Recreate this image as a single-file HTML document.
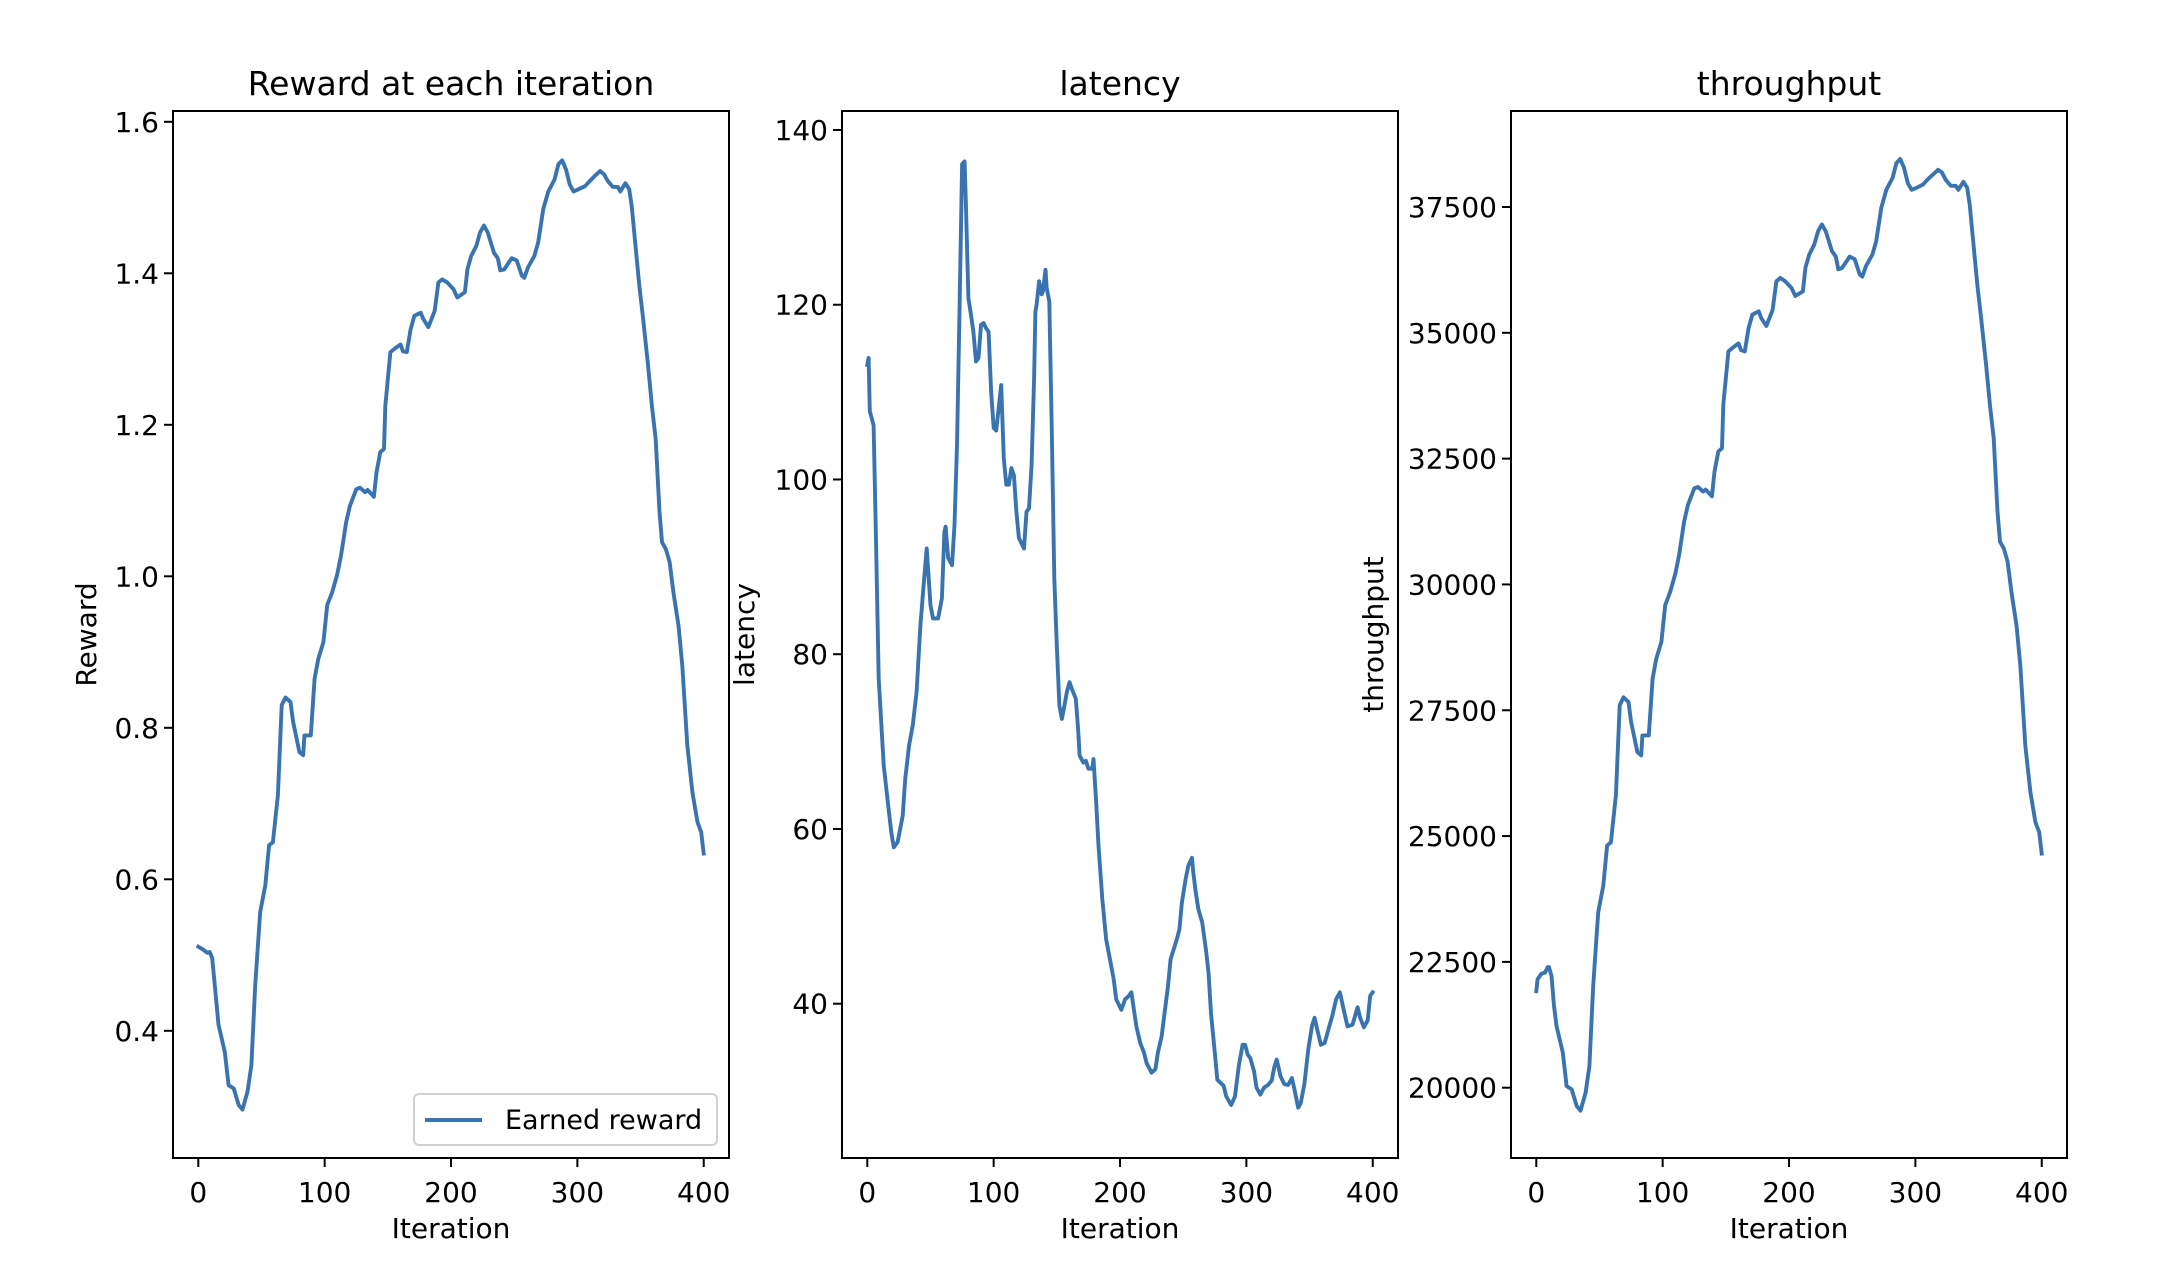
<!DOCTYPE html>
<html><head><meta charset="utf-8"><style>
html,body{margin:0;padding:0;background:#fff;}
svg{display:block;font-family:"DejaVu Sans","Liberation Sans",sans-serif;}
</style></head><body>
<svg id="fig" width="2184" height="1278" viewBox="0 0 2184 1278" xmlns="http://www.w3.org/2000/svg">
<rect width="2184" height="1278" fill="#fff"/>
</svg>
<script>
// ---- data ----
const rewardIters=[0,4,7,9,11,14,16,21,24,28,32,35,39,42,45,49,53,56,59,63,66,69,73,75,80,83,84,89,92,95,99,102,106,110,113,117,120,125,128,132,134,139,141,144,147,148,152,155,160,162,165,168,171,176,178,182,187,190,193,197,202,205,211,213,216,220,223,226,229,234,237,239,242,248,252,256,258,261,266,269,273,277,282,285,288,291,294,297,301,306,310,314,318,321,324,328,332,334,338,341,343,346,349,352,356,359,362,365,367,370,373,376,380,383,387,391,395,398,400];
const rewardVals=[0.511,0.507,0.503,0.504,0.496,0.443,0.408,0.372,0.328,0.324,0.302,0.296,0.320,0.355,0.460,0.557,0.592,0.645,0.649,0.711,0.830,0.840,0.834,0.808,0.768,0.764,0.790,0.790,0.865,0.891,0.913,0.962,0.979,1.003,1.028,1.071,1.093,1.115,1.117,1.111,1.114,1.105,1.137,1.164,1.168,1.225,1.296,1.300,1.306,1.297,1.296,1.326,1.344,1.348,1.340,1.329,1.350,1.388,1.392,1.388,1.379,1.368,1.375,1.405,1.423,1.436,1.454,1.463,1.454,1.427,1.420,1.404,1.405,1.420,1.417,1.397,1.394,1.408,1.423,1.441,1.485,1.508,1.524,1.544,1.549,1.537,1.517,1.508,1.511,1.515,1.522,1.529,1.535,1.531,1.522,1.514,1.514,1.508,1.519,1.511,1.489,1.436,1.384,1.340,1.278,1.225,1.181,1.085,1.045,1.036,1.019,0.979,0.935,0.882,0.777,0.715,0.676,0.662,0.634];
const tpIters=[0,1,4,7,9,10,12,14,16,21,24,28,32,35,39,42,45,49,53,56,59,63,66,69,73,75,80,83,84,89,92,95,99,102,106,110,113,117,120,125,128,132,134,139,141,144,147,148,152,155,160,162,165,168,171,176,178,182,187,190,193,197,202,205,211,213,216,220,223,226,229,234,237,239,242,248,252,256,258,261,266,269,273,277,282,285,288,291,294,297,301,306,310,314,318,321,324,328,332,334,338,341,343,346,349,352,356,359,362,365,367,370,373,376,380,383,387,391,395,398,400];
const tpVals=[21918,22157,22263,22290,22396,22396,22223,21626,21228,20697,20034,19967,19636,19543,19901,20432,22024,23484,24015,24811,24877,25806,27598,27757,27664,27266,26669,26602,27001,27001,28129,28527,28858,29588,29854,30212,30583,31247,31579,31911,31937,31844,31884,31751,32242,32640,32707,33570,34631,34697,34790,34657,34631,35095,35361,35427,35294,35135,35454,36024,36091,36024,35892,35732,35825,36290,36555,36754,37019,37152,37019,36621,36515,36263,36290,36515,36462,36157,36117,36329,36555,36820,37484,37842,38081,38373,38453,38280,37975,37842,37882,37948,38054,38147,38240,38187,38041,37922,37922,37842,38001,37882,37550,36754,35958,35294,34365,33569,32906,31446,30849,30716,30451,29854,29190,28394,26802,25873,25276,25077,24652];
const latIters=[0,1,2,5,7,9,13,16,19,21,24,28,30,33,36,39,42,45,47,50,52,56,59,61,62,64,67,69,71,73,75,77,78,80,82,84,86,88,90,92,94,96,98,100,102,104,106,108,110,112,114,116,118,120,124,126,128,130,132,133,134,136,138,139,141,142,144,146,148,150,152,154,156,158,160,162,165,167,168,171,173,175,178,179,181,183,186,189,192,195,197,201,204,207,209,211,213,216,219,221,225,228,230,233,235,238,240,242,245,247,249,252,254,257,258,260,262,265,268,270,272,275,277,282,284,288,291,294,297,299,301,303,306,308,311,314,317,320,322,324,327,330,333,336,338,341,343,346,349,352,354,356,359,362,365,368,371,374,377,380,384,388,390,393,396,398,400];
const latVals=[113.1,113.9,107.8,106.2,92.5,77.2,67.3,63.4,59.6,57.9,58.5,61.5,65.7,69.5,71.9,75.7,83.3,88.7,92.1,85.6,84.1,84.1,86.4,94.0,94.6,91.0,90.2,94.8,103.9,119.2,136.1,136.4,131.5,120.8,118.9,116.9,113.5,113.9,117.7,117.9,117.3,116.9,110.1,105.9,105.6,108.2,110.8,102.4,99.4,99.4,101.3,100.5,96.3,93.3,92.1,96.3,96.7,101.7,111.6,119.2,120.0,122.7,121.2,121.5,124.0,121.9,120.4,105.5,88.7,81.0,74.1,72.6,74.1,75.7,76.8,76.0,74.9,71.1,68.4,67.6,67.8,66.9,66.9,68.0,63.4,58.1,52.0,47.4,45.1,42.8,40.5,39.3,40.5,40.9,41.3,39.3,37.4,35.5,34.4,33.2,32.1,32.5,34.4,36.3,38.6,42.0,45.1,46.0,47.4,48.5,51.6,54.3,55.8,56.7,55.0,52.7,50.8,49.3,46.2,43.6,38.9,34.4,31.3,30.6,29.4,28.4,29.4,32.9,35.3,35.3,34.2,33.8,32.3,30.4,29.6,30.4,30.7,31.2,32.7,33.6,31.7,30.8,30.7,31.5,30.2,28.1,28.6,30.9,34.8,37.5,38.4,37.1,35.3,35.5,37.1,38.6,40.5,41.3,39.3,37.4,37.6,39.6,38.4,37.3,38.1,40.9,41.3];
const xTicks=[0,100,200,300,400];
const rewardTicks=[0.4,0.6,0.8,1.0,1.2,1.4,1.6];
const rewardTickLabels=["0.4","0.6","0.8","1.0","1.2","1.4","1.6"];
const latTicks=[40,60,80,100,120,140];
const tpTicks=[20000,22500,25000,27500,30000,32500,35000,37500];

const NS="http://www.w3.org/2000/svg";
const svg=document.getElementById('fig');
function mk(tag,attrs,parent){const e=document.createElementNS(NS,tag);for(const k in attrs)e.setAttribute(k,attrs[k]);(parent||svg).appendChild(e);return e;}
const TOP=111,BOT=1158,W=556;
const COLOR="#3a74b0";

function panel(opts){
  const L=opts.left;
  const g=mk('g',{});
  
  
  const xS=i=>L+25.3+1.2636*i;
  const yS=v=>opts.y0px+(v-opts.y0)*(opts.y1px-opts.y0px)/(opts.y1-opts.y0);
  let d='';
  opts.xs.forEach((it,k)=>{d+=(k?'L':'M')+xS(it).toFixed(1)+','+yS(opts.vals[k]).toFixed(1);});
  const p=mk('path',{d:d,fill:'none',stroke:COLOR,'stroke-width':3.9,'stroke-linejoin':'round','stroke-linecap':'square'},g);
  
  
  const f=mk('rect',{x:L,y:TOP,width:W,height:BOT-TOP,fill:'none',stroke:'#000','stroke-width':2},g);
  
  
  xTicks.forEach(t=>{
    const x=xS(t);
    mk('line',{x1:x,y1:BOT,x2:x,y2:BOT+9,stroke:'#000','stroke-width':2},g);
    const tx=mk('text',{x:x,y:1202,'text-anchor':'middle','font-size':28,fill:'#000'},g);
    tx.textContent=String(t);
    
    
  });
  opts.ticks.forEach((t,k)=>{
    const y=yS(t);
    mk('line',{x1:L-9,y1:y,x2:L,y2:y,stroke:'#000','stroke-width':2},g);
    const tx=mk('text',{x:L-14,y:y+10,'text-anchor':'end','font-size':28,fill:'#000'},g);
    tx.textContent=opts.labels?opts.labels[k]:String(t);
    
    
  });
  const title=mk('text',{x:L+W/2,y:95,'text-anchor':'middle','font-size':33,fill:'#000'},g);
  title.textContent=opts.title;
  
  
  const xl=mk('text',{x:L+W/2,y:1238,'text-anchor':'middle','font-size':28,fill:'#000'},g);
  xl.textContent='Iteration';
  
  
  const cy=(TOP+BOT)/2;
  const yl=mk('text',{x:opts.ylx,y:cy,'text-anchor':'middle','font-size':28,fill:'#000',transform:'rotate(-90 '+opts.ylx+' '+cy+')'},g);
  yl.textContent=opts.ylabel;
  
  
  return g;
}

panel({name:'reward',left:173,xs:rewardIters,vals:rewardVals,ticks:rewardTicks,labels:rewardTickLabels,
  y0:1.6,y0px:121.8,y1:0.4,y1px:1030.8,title:'Reward at each iteration',ylabel:'Reward',ylx:96});
panel({name:'latency',left:842,xs:latIters,vals:latVals,ticks:latTicks,
  y0:140,y0px:130,y1:40,y1px:1003.7,title:'latency',ylabel:'latency',ylx:754});
panel({name:'throughput',left:1511,xs:tpIters,vals:tpVals,ticks:tpTicks,
  y0:37500,y0px:207,y1:20000,y1px:1087.7,title:'throughput',ylabel:'throughput',ylx:1383});

const lg=mk('g',{});


mk('rect',{x:414,y:1094,width:303,height:51,rx:5,fill:'#fff','fill-opacity':0.8,stroke:'#d0d0d0','stroke-width':2},lg);
const ll=mk('line',{x1:425,y1:1120,x2:482,y2:1120,stroke:COLOR,'stroke-width':3.9},lg);


const lt=mk('text',{x:505,y:1129,'font-size':27,fill:'#000'},lg);
lt.textContent='Earned reward';


</script>
</body></html>
